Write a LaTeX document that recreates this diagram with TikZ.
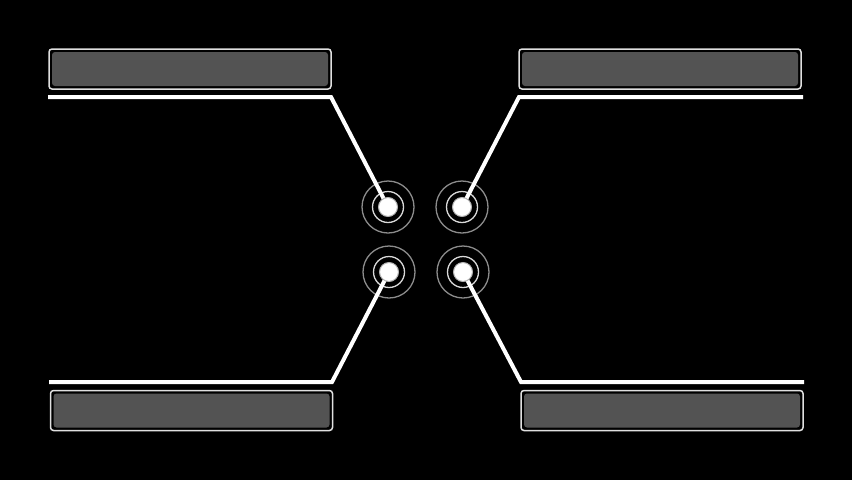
\documentclass[tikz,border=0pt]{standalone}
\begin{document}
\begin{tikzpicture}[x=1pt,y=-1pt,
  panel/.style={draw=white!88!black,line width=1.5pt,fill=black,rounded corners=3pt,minimum width=282pt,minimum height=40pt,inner sep=0pt,
    path picture={\fill[fill=gray!65!black] ([xshift=3pt,yshift=3pt]path picture bounding box.south west) rectangle ([xshift=-3pt,yshift=-3pt]path picture bounding box.north east);}},
  ringout/.style={draw=white!55!black,line width=1.3pt,circle,minimum size=52pt,inner sep=0pt},
  ringin/.style={draw=white!85!black,line width=1.3pt,circle,minimum size=31pt,inner sep=0pt},
  dot/.style={circle,fill=white,draw=white!70!black,line width=1pt,minimum size=19pt,inner sep=0pt},
  wire/.style={draw=white,line width=4pt,line join=miter}]
\fill[black] (0,0) rectangle (852,480);
\useasboundingbox (0,0) rectangle (852,480);
% panels
\node[panel] (p1) at (190,69) {};
\node[panel] (p2) at (660,69) {};
\node[panel] (p3) at (191.5,410.5) {};
\node[panel] (p4) at (662,410.5) {};
% rings
\foreach \n/\x/\y in {a/388/207, b/462/207, c/389/272, d/463/272}{
  \node[ringout] (o\n) at (\x,\y) {};
  \node[ringin] (i\n) at (\x,\y) {};
}
% line corner coordinates
\coordinate (l1s) at (48,97);  \coordinate (l1c) at (331,97);
\coordinate (l2s) at (803,97); \coordinate (l2c) at (519,97);
\coordinate (l3s) at (49,382); \coordinate (l3c) at (332,382);
\coordinate (l4s) at (804,382);\coordinate (l4c) at (521,382);
\draw[wire] (l1s) -- (l1c) -- (ia.center);
\draw[wire] (l2s) -- (l2c) -- (ib.center);
\draw[wire] (l3s) -- (l3c) -- (ic.center);
\draw[wire] (l4s) -- (l4c) -- (id.center);
% dots
\node[dot] (da) at (ia) {};
\node[dot] (db) at (ib) {};
\node[dot] (dc) at (ic) {};
\node[dot] (dd) at (id) {};
\end{tikzpicture}
\end{document}
